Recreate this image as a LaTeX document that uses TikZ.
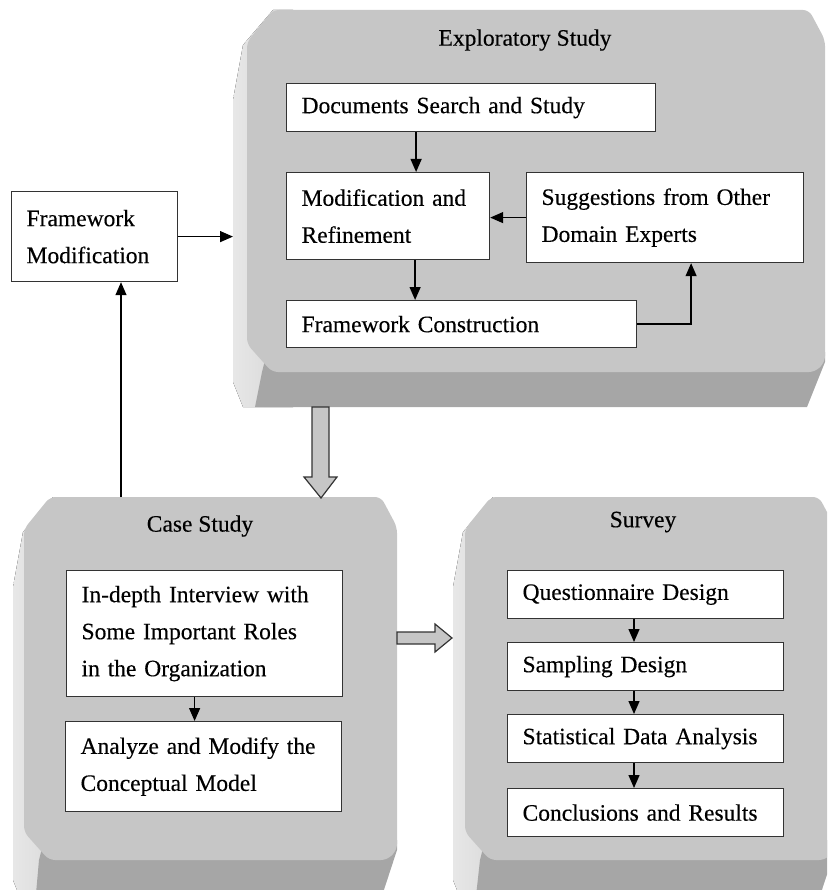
\documentclass[tikz,border=0pt]{standalone}
\usepackage{fontspec}
\setmainfont{Liberation Serif}
\newfontfamily\panelfont{Liberation Serif}[FakeBold=0.3]
\usetikzlibrary{arrows.meta,calc,positioning}

\definecolor{facegray}{HTML}{C6C6C6}
\definecolor{basegray}{HTML}{A6A6A6}
\definecolor{sidegray}{HTML}{D4D4D4}

\newcommand{\bevelpanel}[6]{%
  \fill[left color=sidegray!55!white, right color=sidegray]
    (#1+40,#2)--(#1+10,#2+35)--(#1,#2+90)--(#1,#4-25)--(#1+10,#4)--(#1+60,#4)--(#1+60,#2)--cycle;
  \fill[basegray]
    (#5+20,#6-20)--(#3,#6-20)--(#3,#6-10)--(#3-18,#4)--(#1+22,#4)--(#5+15,#6)--cycle;
  \fill[facegray, rounded corners=6pt]
    (#5+26,#2)--(#3-16,#2)--(#3,#2+30)--(#3,#6-10)--(#3-10,#6)--(#5+25,#6)--(#5,#6-28)--(#5,#2+32)--cycle;
}

\begin{document}
\begin{tikzpicture}[x=1pt,y=-1pt,
  box/.style={draw=black!80, line width=1.2pt, fill=white, anchor=north west,
    inner xsep=15pt, inner ysep=0pt, align=left, font=\panelfont\fontsize{23.5}{37}\selectfont},
  title/.style={font=\panelfont\fontsize{23.5}{28}\selectfont},
  arr/.style={line width=1.3pt, -{Triangle[length=13pt,width=11pt]}},
  hollow/.style={draw=black!80, line width=1.2pt, fill=facegray}]
  \useasboundingbox (0,0) rectangle (827,890);
  \clip (0,0) rectangle (827,890);

  \bevelpanel{233}{10}{825}{407}{247}{372}
  \bevelpanel{13}{497}{397}{905}{24}{860}
  \bevelpanel{453}{497}{835}{905}{465}{860}

  \draw[hollow] (312,407)--(329,407)--(329,477)--(337,477)--(321,498)--(304,477)--(312,477)--cycle;
  \draw[hollow] (397,632)--(435,632)--(435,624)--(452,638)--(435,652)--(435,644)--(397,644)--cycle;

  \node[title] (explT) at (525,40) {Exploratory Study};
  \node[title] (caseT) at (200,526) {Case Study};
  \node[title] (survT) at (643,522) {Survey};

  \node[box, text width=339pt, minimum height=48pt] (docs) at (286,83) {Documents Search and Study};
  \node[box, text width=173pt, minimum height=87pt] (modref) at (286,172) {Modification and\\Refinement};
  \node[box, text width=247pt, minimum height=90pt] (sugg) at (526,172) {Suggestions from Other\\Domain Experts};
  \node[box, text width=320pt, minimum height=47pt] (fcons) at (286,300) {Framework Construction};
  \node[box, text width=136pt, minimum height=90pt] (fmod) at (11,191) {Framework\\Modification};

  \node[box, text width=246pt, minimum height=126pt] (interv) at (66,570) {In-depth Interview with\\Some Important Roles\\in the Organization};
  \node[box, text width=246pt, minimum height=90pt] (analyze) at (65,721) {Analyze and Modify the\\Conceptual Model};

  \node[box, text width=246pt, minimum height=48pt] (quest) at (507,570) {Questionnaire Design};
  \node[box, text width=246pt, minimum height=48pt] (samp) at (507,642) {Sampling Design};
  \node[box, text width=246pt, minimum height=48pt] (stat) at (507,714) {Statistical Data Analysis};
  \node[box, text width=246pt, minimum height=48pt] (concl) at (507,788) {Conclusions and Results};

  \coordinate (mr) at ([xshift=28pt]modref.north);
  \coordinate (fc) at ([xshift=27pt]modref.south);
  \coordinate (sg) at ([xshift=26pt]sugg.south);
  \coordinate (explIn) at (233,0);
  \coordinate (caseTop) at (121,497);
  \coordinate (an) at ([xshift=-9pt]analyze.north);
  \coordinate (sv) at (634,0);

  \draw[arr] (docs.south -| mr)--(mr);
  \draw[arr] (sugg.west)--(sugg.west -| modref.east);
  \draw[arr] (fc)--(fcons.north -| fc);
  \draw[arr] (fcons.east)-|(sg);
  \draw[arr] (fmod.east)--(fmod.east -| explIn);
  \draw[arr] (caseTop)--(caseTop |- fmod.south);
  \draw[arr] (interv.south -| an)--(an);
  \draw[arr] (quest.south -| sv)--(samp.north -| sv);
  \draw[arr] (samp.south -| sv)--(stat.north -| sv);
  \draw[arr] (stat.south -| sv)--(concl.north -| sv);
\end{tikzpicture}
\end{document}
